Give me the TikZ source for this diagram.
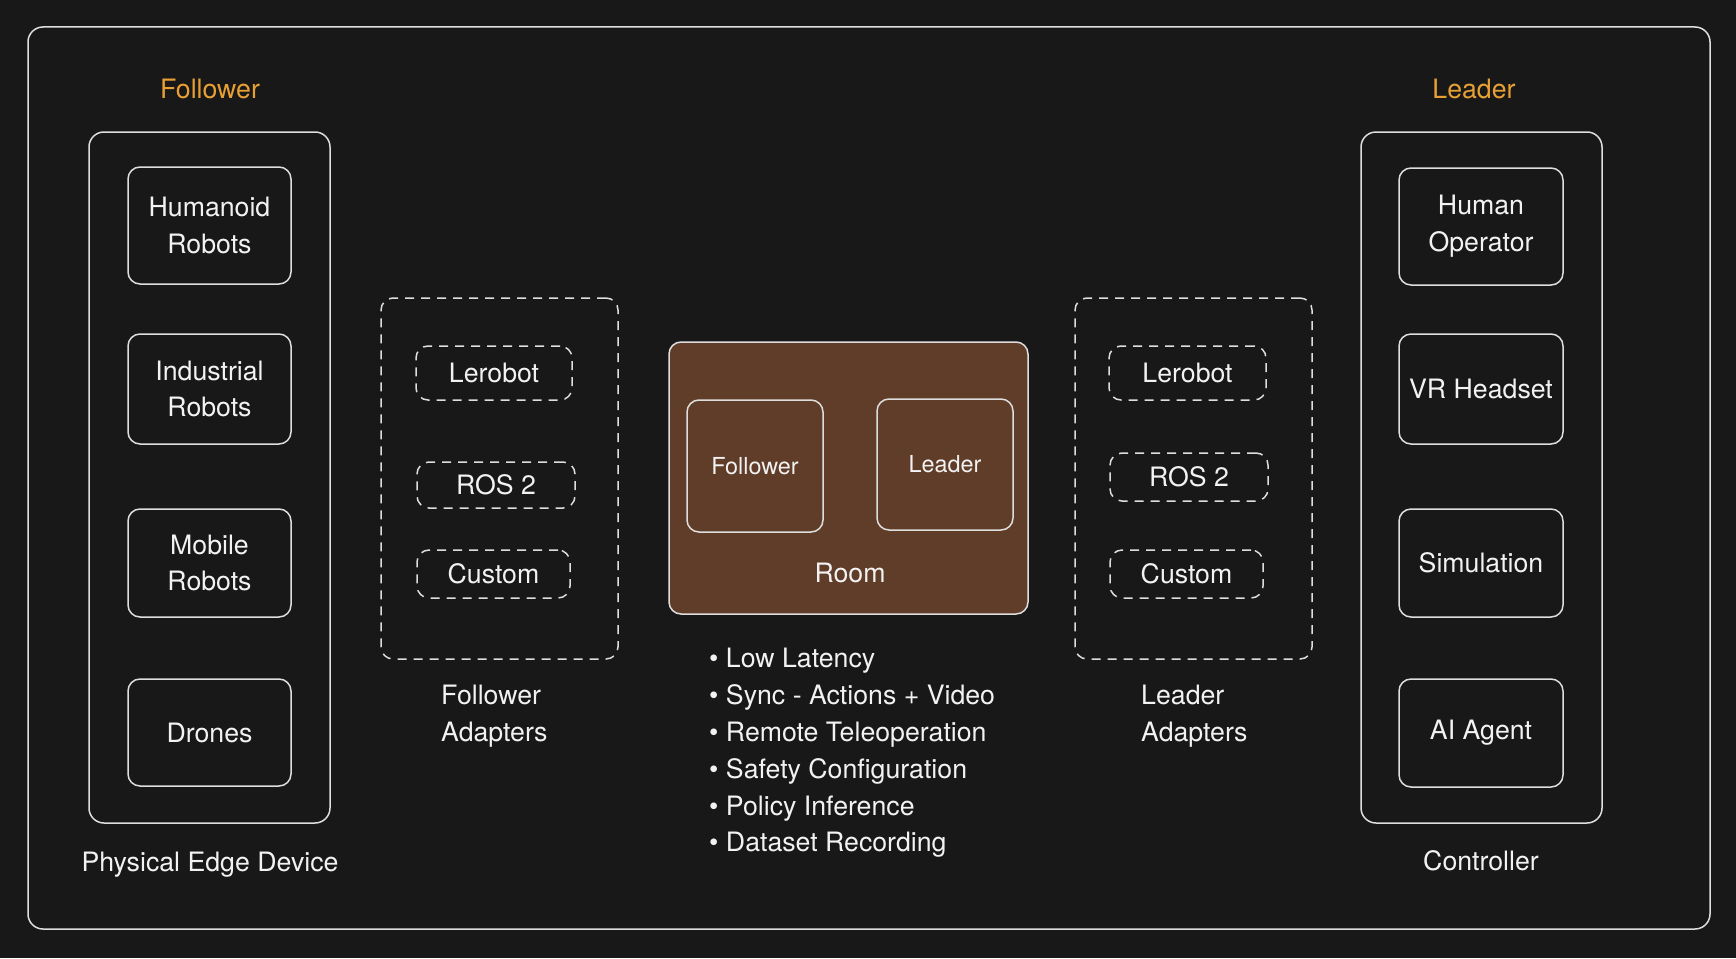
\documentclass[tikz,border=0pt]{standalone}
\usepackage{fontspec}
\setmainfont{TeX Gyre Heros}
\definecolor{bg}{RGB}{24,24,24}
\definecolor{linec}{RGB}{222,222,222}
\definecolor{txt}{RGB}{242,242,242}
\definecolor{orangec}{RGB}{232,160,52}
\definecolor{roomc}{RGB}{96,61,40}
\newcommand{\mainsz}{\fontsize{26.7}{36.8}\selectfont}
\newcommand{\smallsz}{\fontsize{23.4}{30}\selectfont}
\tikzset{
  solidbox/.style={draw=linec, line width=1.5pt, rounded corners=12pt, text=txt, align=center, inner sep=0pt, font=\mainsz},
  bigbox/.style={solidbox, rounded corners=15pt},
  dashbox/.style={solidbox, dash pattern=on 9pt off 7pt},
  lbl/.style={text=txt, font=\mainsz, inner sep=0pt},
  headlbl/.style={text=orangec, font=\mainsz, inner sep=0pt},
}
\begin{document}
\begin{tikzpicture}[x=1pt,y=-1pt]
\fill[bg] (0,0) rectangle (1736,958);
\useasboundingbox (0,0) rectangle (1736,958);
% outer frame
\node[bigbox, minimum width=1682pt, minimum height=902pt] (outer) at (869,478) {};
% left column
\node[headlbl] (followerhead) at (210,89) {Follower};
\node[bigbox, minimum width=241pt, minimum height=691pt] (lcol) at (209.5,477.5) {};
\node[solidbox, minimum width=163pt, minimum height=117pt] (humanoid) at (209.5,225.5) {Humanoid\\Robots};
\node[solidbox, minimum width=163pt, minimum height=110pt] (industrial) at (209.5,389) {Industrial\\Robots};
\node[solidbox, minimum width=163pt, minimum height=108pt] (mobile) at (209.5,563) {Mobile\\Robots};
\node[solidbox, minimum width=163pt, minimum height=107pt] (drones) at (209.5,732.5) {Drones};
\node[lbl] (edge) at (210,865) {Physical Edge Device};
% follower adapters
\node[dashbox, minimum width=237pt, minimum height=361pt] (fadapt) at (499.5,478.5) {};
\node[dashbox, minimum width=156pt, minimum height=54pt] (flero) at (494,373) {Lerobot};
\node[dashbox, minimum width=158pt, minimum height=46pt] (fros) at (496,485) {ROS 2};
\node[dashbox, minimum width=153pt, minimum height=48pt] (fcustom) at (493.5,574) {Custom};
\node[lbl, align=left, anchor=west] (fadaptlbl) at (441,716) {Follower\\Adapters};
% room
\node[solidbox, fill=roomc, minimum width=359pt, minimum height=272pt] (room) at (848.5,478) {};
\node[solidbox, font=\smallsz, minimum width=136pt, minimum height=132pt] (rfollower) at (755,466) {Follower};
\node[solidbox, font=\smallsz, minimum width=136pt, minimum height=131pt] (rleader) at (945,464.5) {Leader};
\node[lbl] (roomlbl) at (850,573) {Room};
\node[lbl, align=left, anchor=west] (features) at (709,753) {• Low Latency\\• Sync - Actions + Video\\• Remote Teleoperation\\• Safety Configuration\\• Policy Inference\\• Dataset Recording};
% leader adapters
\node[dashbox, minimum width=237pt, minimum height=361pt] (ladapt) at (1193.5,478.5) {};
\node[dashbox, minimum width=157pt, minimum height=54pt] (llero) at (1187.5,373) {Lerobot};
\node[dashbox, minimum width=158pt, minimum height=48pt] (lros) at (1189,477) {ROS 2};
\node[dashbox, minimum width=153pt, minimum height=48pt] (lcustom) at (1186.5,574) {Custom};
\node[lbl, align=left, anchor=west] (ladaptlbl) at (1141,716) {Leader\\Adapters};
% right column
\node[headlbl] (leaderhead) at (1474,89) {Leader};
\node[bigbox, minimum width=241pt, minimum height=691pt] (rcol) at (1481.5,477.5) {};
\node[solidbox, minimum width=164pt, minimum height=117pt] (human) at (1481,226.5) {Human\\Operator};
\node[solidbox, minimum width=164pt, minimum height=110pt] (vr) at (1481,389) {VR Headset};
\node[solidbox, minimum width=164pt, minimum height=108pt] (sim) at (1481,563) {Simulation};
\node[solidbox, minimum width=164pt, minimum height=108pt] (ai) at (1481,733) {AI Agent};
\node[lbl] (controller) at (1481,861) {Controller};
\end{tikzpicture}
\end{document}
